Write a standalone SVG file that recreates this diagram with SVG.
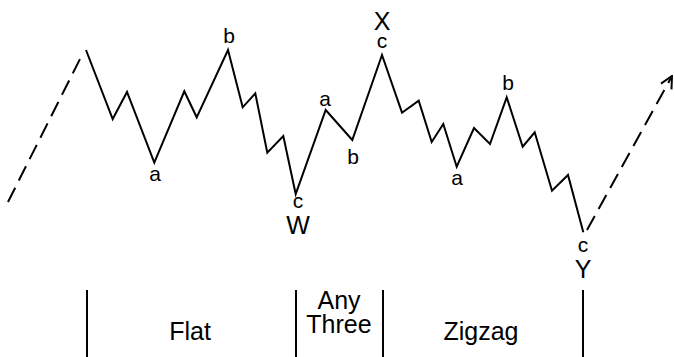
<svg xmlns="http://www.w3.org/2000/svg" width="674" height="357" viewBox="0 0 674 357">
<style>
.wave{fill:none;stroke:#000;stroke-width:2;stroke-linejoin:miter}
.dash{fill:none;stroke:#000;stroke-width:2;stroke-dasharray:16 8}
.sep{stroke:#000;stroke-width:2}
text{font-family:"Liberation Sans",Arial,sans-serif;fill:#000;text-anchor:middle}
.lo{font-size:21px}
.cap{font-size:25px}
.sec{font-size:25px}
</style>
<defs>
<marker id="arr" viewBox="0 0 14 14" refX="13" refY="7" markerWidth="14" markerHeight="14" markerUnits="userSpaceOnUse" orient="auto">
<path d="M1,1 L13,7 L1,13" fill="none" stroke="#000" stroke-width="2"/>
</marker>
</defs>
<g id="connectors">
<path class="dash" d="M8,202 L80,59"/>
<polyline class="wave" points="86,50 112.7,119 127,92 154.3,162.7 184.3,91.3 196.7,117.3 228,50 242.7,107.3 255.3,93.3 267.3,152.7 283.3,136 295.7,194 325.7,110 352.3,140 382,55 402,112.7 418.7,100.7 431.7,142 443.3,124 456.7,166.7 474,128 490,144 506.7,97.3 522.7,146.7 534.7,132.3 552,190.7 568,175 583.3,232.3"/>
<path class="dash" d="M587,230 L672,76" marker-end="url(#arr)"/>
</g>
<g id="labels">
<text class="lo" x="155" y="181">a</text>
<text class="lo" x="229" y="43">b</text>
<text class="lo" x="298" y="208">c</text>
<text class="cap" x="298" y="234">W</text>
<text class="lo" x="325" y="106">a</text>
<text class="lo" x="353" y="164">b</text>
<text class="cap" x="382" y="30">X</text>
<text class="lo" x="382" y="48">c</text>
<text class="lo" x="508" y="90">b</text>
<text class="lo" x="457" y="185">a</text>
<text class="lo" x="583" y="252">c</text>
<text class="cap" x="583" y="278">Y</text>
</g>
<g id="sections">
<line class="sep" x1="87" y1="290" x2="87" y2="357"/>
<line class="sep" x1="296" y1="290" x2="296" y2="357"/>
<line class="sep" x1="383" y1="290" x2="383" y2="357"/>
<line class="sep" x1="583" y1="290" x2="583" y2="357"/>
<text class="sec" x="190" y="340">Flat</text>
<text class="sec" x="339" y="309">Any</text>
<text class="sec" x="339" y="333">Three</text>
<text class="sec" x="481" y="340">Zigzag</text>
</g>
</svg>
